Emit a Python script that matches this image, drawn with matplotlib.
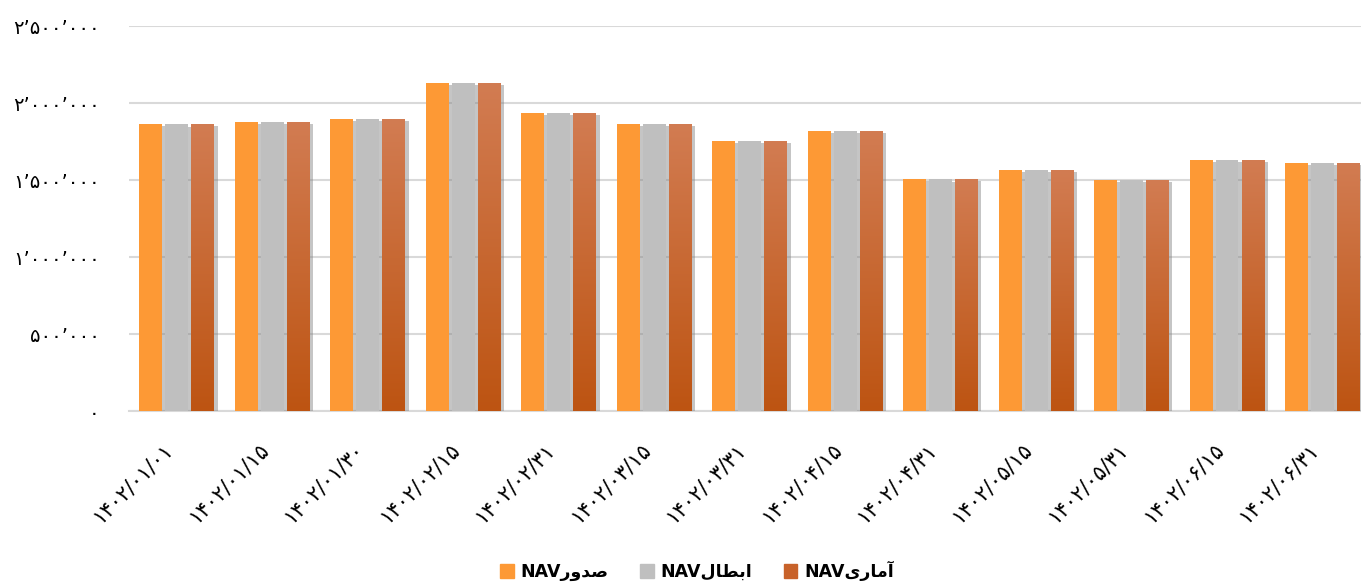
import numpy as np
import matplotlib
matplotlib.use("Agg")
import matplotlib.pyplot as plt
import matplotlib.patheffects as pe
from matplotlib.colors import LinearSegmentedColormap
from matplotlib.patches import Patch

# data
dates = ["1402/01/01", "1402/01/15", "1402/01/30", "1402/02/15", "1402/02/31",
         "1402/03/15", "1402/03/31", "1402/04/15", "1402/04/31", "1402/05/15",
         "1402/05/31", "1402/06/15", "1402/06/31"]
nav_sodoor = [1864000, 1877000, 1896000, 2130000, 1935000, 1864000, 1753000,
              1818000, 1506000, 1565000, 1500000, 1630000, 1611000]
nav_ebtal = [1861000, 1875000, 1895000, 2129000, 1934000, 1862000, 1752000,
             1816000, 1504000, 1564000, 1498000, 1629000, 1609000]
nav_amari = [1864000, 1877000, 1896000, 2130000, 1935000, 1864000, 1753000,
             1818000, 1506000, 1565000, 1500000, 1630000, 1611000]

# legend names, already in visual (shaped, reversed) order: صدور / ابطال / آماری
names = ["NAV\uFEAD\uFEED\uFEAA\uFEBB",
         "NAV\uFEDD\uFE8E\uFEC4\uFE91\uFE8D",
         "NAV\uFEEF\uFEAD\uFE8E\uFEE3\uFE81"]

fa = str.maketrans("0123456789", "۰۱۲۳۴۵۶۷۸۹")

def fa_num(v, pos=None):
    return f"{int(v):,}".replace(",", "’").translate(fa)

fig = plt.figure(figsize=(13.61, 5.85), dpi=100)
ax = fig.add_axes([0.0948, 0.2974, 0.912, 0.658])

x = np.arange(len(dates))
w = 0.24
step = 0.272
shadow = [pe.SimplePatchShadow(offset=(2.5, -1.5), shadow_rgbFace="#808080", alpha=0.45), pe.Normal()]

b1 = ax.bar(x - step, nav_sodoor, w, color="#FD9935", zorder=3)
b2 = ax.bar(x, nav_ebtal, w, color="#BFBFBF", zorder=3)
b3 = ax.bar(x + step, nav_amari, w, color="#C8622A", zorder=3)
for bars in (b1, b2, b3):
    for b in bars:
        b.set_path_effects(shadow)

# gradient fill for the brown series
cmap = LinearSegmentedColormap.from_list("br", ["#BD5412", "#D27C52"])
grad = np.linspace(0, 1, 256).reshape(-1, 1)
for b in b3:
    bx, by = b.get_x(), b.get_y()
    im = ax.imshow(grad, cmap=cmap, origin="lower", aspect="auto",
                   extent=[bx, bx + b.get_width(), by, by + b.get_height()], zorder=3.5)
    im.set_clip_path(b)

ax.set_xlim(-0.5, len(dates) - 0.5)
ax.set_ylim(0, 2500000)
ax.set_yticks(np.arange(0, 2500001, 500000))
ax.yaxis.set_major_formatter(plt.FuncFormatter(fa_num))
ax.grid(axis="y", color="#D9D9D9", linewidth=1.5, zorder=0)
for s in ["top", "right", "left"]:
    ax.spines[s].set_visible(False)
ax.spines["bottom"].set_color("#D9D9D9")
ax.spines["bottom"].set_linewidth(1.5)
ax.tick_params(length=0)
ax.tick_params(axis="y", labelsize=14, pad=21)
ax.set_xticks(x)
ax.set_xticklabels([d.translate(fa) for d in dates], rotation=45, ha="right",
                   va="top", fontsize=15)
ax.tick_params(axis="x", pad=20)

handles = [Patch(color="#FD9935"), Patch(color="#BFBFBF"), Patch(color="#C8622A")]
leg = fig.legend(handles, names, loc="center", bbox_to_anchor=(0.512, 0.024),
                 ncol=3, frameon=False, prop={"weight": "bold", "size": 12.5},
                 handlelength=0.8, handleheight=0.8, columnspacing=1.8, handletextpad=0.4)

fig.savefig("out.png", dpi=100)
